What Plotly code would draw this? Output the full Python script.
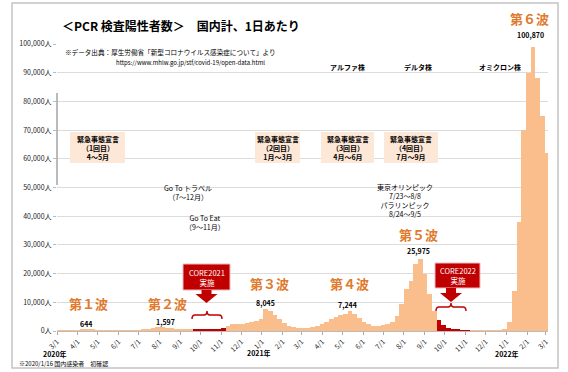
import pandas as pd
import plotly.graph_objects as go

# ---------------- data ----------------
week_start = "2020-03-01"
# weekly envelope of daily positives (people / day), week starting Sundays
weekly_cases = [
    # 2020 Mar-Dec
    20, 50, 45, 110, 240,
    520, 620, 450, 230,
    120, 60, 35, 30, 45,
    45, 55, 95, 240,
    380, 620, 950, 1300,
    1550, 1200, 1150, 850, 620,
    580, 550, 480, 580,
    580, 650, 620, 750,
    1100, 1650, 2400, 2500, 2600,
    2900, 3200, 3600, 4300,
    # 2021
    7600, 6800, 5600, 4300, 2700,
    1900, 1400, 1100, 1100,
    1200, 1450, 1800, 2600,
    3200, 4200, 5000, 5500,
    5800, 7000, 6000, 4400, 3200,
    2400, 1800, 1700, 2000,
    2300, 3300, 5200, 9500,
    14500, 17500, 23500, 25000, 20000,
    13000, 7000, 3800, 2000,
    1100, 700, 420, 300, 230,
    200, 170, 130, 130,
    140, 170, 250, 500,
    # 2022
    3000, 14000, 38000, 70000, 90000,
    99000, 88000, 75000, 62000,
]
core_periods = [("2020-09-19", "2020-11-01"), ("2021-09-17", "2021-10-31")]

month_ticks = pd.date_range("2020-03-01", "2022-03-01", freq="MS")
month_labels = [f"{d.month}/1" for d in month_ticks]
y_ticks = list(range(0, 100001, 10000))
y_labels = [f"{v:,}人" for v in y_ticks]

wave_labels = ["第１波", "第２波", "第３波", "第４波", "第５波", "第６波"]
peak_labels = ["644", "1,597", "8,045", "7,244", "25,975", "100,870"]

# ---------------- figure ----------------
ORANGE = "#f9be8c"
RED = "#c00000"
WAVE = "#e07a2c"
FONT = "Noto Sans CJK JP"

dates = pd.date_range(week_start, periods=len(weekly_cases), freq="7D")
colors = []
for d in dates:
    c = ORANGE
    for a, b in core_periods:
        if pd.Timestamp(a) <= d <= pd.Timestamp(b):
            c = RED
    colors.append(c)

fig = go.Figure()
fig.add_trace(go.Bar(
    x=dates, y=weekly_cases, width=7 * 86400000, offset=0,
    marker=dict(color=colors, line=dict(width=0)), hoverinfo="skip",
))

W, H = 568, 372
L, R, T, B = 57, 548, 44, 331


def px(x):
    return (x - L) / (R - L)


def py(y):
    return (B - y) / (B - T)


ann = []


def text(x, y, s, size=7, color="black", anchor="center", bold=False, bg=None):
    ann.append(dict(x=px(x), y=py(y), xref="paper", yref="paper", text=(f"<b>{s}</b>" if bold else s),
                    showarrow=False, xanchor=anchor, yanchor="middle",
                    font=dict(size=size, color=color, family=FONT), bgcolor=bg))


shapes = []


def rect(x0, y0, x1, y1, fill, line=None):
    shapes.append(dict(type="rect", xref="paper", yref="paper", x0=px(x0), x1=px(x1), y0=py(y1), y1=py(y0),
                       fillcolor=fill, line=dict(width=1 if line else 0, color=line or fill), layer="above"))


def path(points, fill=None, stroke=None, close=True):
    d = ""
    for cmd, *pts in points:
        d += cmd + " " + " ".join(f"{px(a):.5f},{py(b):.5f}" for a, b in zip(pts[::2], pts[1::2])) + " "
    if close:
        d += "Z"
    shapes.append(dict(type="path", xref="paper", yref="paper", path=d, fillcolor=fill,
                       line=dict(width=0 if stroke is None else 1.5, color=stroke or fill), layer="above"))


def brace(x0, x1, xm, yt, yb):
    ym = (yt + yb) / 2
    path([("M", x0, yb), ("Q", x0, ym, x0 + 3, ym), ("L", xm - 3, ym), ("Q", xm, ym, xm, yt),
          ("Q", xm, ym, xm + 3, ym), ("L", x1 - 3, ym), ("Q", x1, ym, x1, yb)], stroke=RED, close=False)


def arrow(xc, y0, y1, tip):
    path([("M", xc - 5, y0), ("L", xc + 5, y0), ("L", xc + 5, y1), ("L", xc + 11, y1), ("L", xc, tip),
          ("L", xc - 11, y1), ("L", xc - 5, y1)], fill=RED)


# frame
shapes.append(dict(type="rect", xref="paper", yref="paper", x0=px(12), x1=px(558), y0=py(368), y1=py(3),
                   line=dict(color="#c4c4c4", width=1.5), layer="below"))
shapes.append(dict(type="line", xref="paper", yref="paper", x0=px(57), x1=px(57), y0=py(185), y1=py(93),
                   line=dict(color="#777", width=1)))

# title and source
text(60, 25, "<b>＜PCR 検査陽性者数＞　国内計、1日あたり</b>", size=12, anchor="left")
text(63, 52, "※データ出典：厚生労働省「新型コロナウイルス感染症について」より", size=6.6, anchor="left")
text(114, 62, "https://www.mhlw.go.jp/stf/covid-19/open-data.html", size=6, anchor="left")

# emergency boxes
for (x0, x1), k, m in [((70, 125), "1", "4～5月"), ((255, 300), "2", "1月～3月"),
                       ((321, 374), "3", "4月～6月"), ((384, 438), "4", "7月～9月")]:
    rect(x0, 132, x1, 163, "#fde7d6")
    text((x0 + x1) / 2, 147.5, f"緊急事態宣言<br>（{k}回目）<br>{m}", size=7, bold=True)

# campaign / variant texts
text(188, 192, "Go To トラベル<br>（7～12月）", size=7)
text(205, 222, "Go To Eat<br>（9～11月）", size=7)
text(347, 67, "アルファ株", size=7, bold=True)
text(418, 67, "デルタ株", size=7, bold=True)
text(500, 67, "オミクロン株", size=7, bold=True)
text(405, 201, "東京オリンピック<br>7/23～8/8<br>パラリンピック<br>8/24～9/5", size=7)

# waves
for (x, y), s in zip([(88, 303), (167, 303), (269, 283), (349, 283), (418, 234), (529, 18)], wave_labels):
    text(x, y, s, size=13, color=WAVE, bold=True)
for (x, y), s in zip([(86, 324), (165, 322), (265, 303), (347, 305), (418, 251), (530, 35)], peak_labels):
    text(x, y, s, size=7, bold=True)

# years / footer
text(55, 354, "2020年", size=7, bold=True)
text(259, 353, "2021年", size=7, bold=True)
text(507, 354, "2022年", size=7, bold=True)
text(17, 363, "※2020/1/16 国内感染者　初確認", size=6, anchor="left")

# CORE callouts
rect(183, 264, 230, 290, RED, "#f4b8b8")
text(206.5, 277, "CORE2021<br>実施", size=7.5, color="white")
arrow(206.5, 290, 294, 303)
brace(192, 222, 207, 311, 319)

rect(435, 263, 480, 288, RED, "#f4b8b8")
text(457.5, 275.5, "CORE2022<br>実施", size=7.5, color="white")
arrow(451, 288, 293, 302)
brace(436, 466, 451, 303, 311)

fig.update_layout(
    width=W, height=H, margin=dict(l=L, r=W - R, t=T, b=H - B),
    paper_bgcolor="white", plot_bgcolor="white", showlegend=False,
    bargap=0, annotations=ann, shapes=shapes,
    font=dict(family=FONT, size=7, color="#222"),
    xaxis=dict(type="date", range=["2020-03-01", "2022-03-04"], tickvals=month_ticks, ticktext=month_labels,
               tickangle=-45, ticks="outside", ticklen=3, tickcolor="#aaa", showline=True, linecolor="#bbb",
               showgrid=False, tickfont=dict(size=7, color="#222"), automargin=False),
    yaxis=dict(range=[0, 100000], tickvals=y_ticks, ticktext=y_labels, gridcolor="#dcdcdc",
               zeroline=False, showline=False, ticks="outside", ticklen=3, tickcolor="#bbb",
               tickfont=dict(size=7, color="#222"), automargin=False),
)

fig.write_html("out.html", config={"displayModeBar": False},
               post_script="document.body.style.margin='0';document.body.style.overflow='hidden';")
